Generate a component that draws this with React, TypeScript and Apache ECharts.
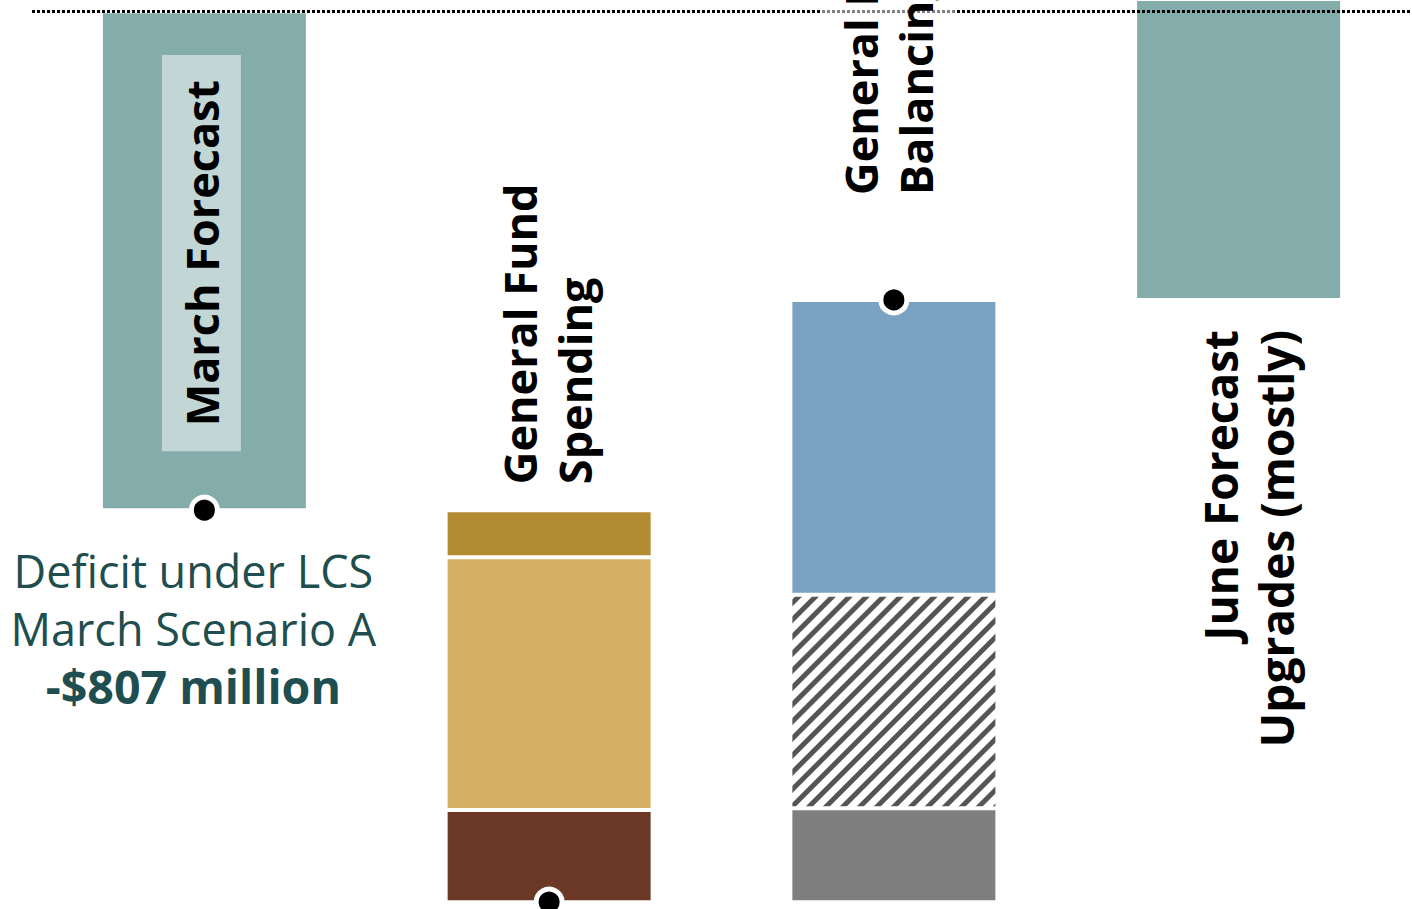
import React, { useEffect, useRef } from "react";
import * as echarts from "echarts";

// ---------- data ----------
const categories = [
  "March Forecast",
  "General Fund Spending",
  "General Fund Balancing",
  "June Forecast Upgrades (mostly)",
];
const categoryLabels = [
  "March Forecast",
  "General Fund\nSpending",
  "General Fund\nBalancing",
  "June Forecast\nUpgrades (mostly)",
];
const marchDeficit = -807; // $ millions
const spendingNames = ["Spending 1", "Spending 2", "Spending 3"];
const spendingValues = [76, 409, 149]; // adds to deficit, top to bottom
const balancingNames = ["Balancing 1", "Balancing 2", "Balancing 3"];
const balancingValues = [477, 345, 152]; // reduces deficit, top to bottom
const juneUpgrade = 700;
const annotationLines = ["Deficit under LCS", "March Scenario A"];
const zeroLine = 0;

// ---------- styles ----------
const teal = "#84acab";
const spendingColors = ["#b38b33", "#d3b064", "#6b3826"];
const balancingColors = ["#79a2c3", "#ffffff", "#7f7f7f"];
const hatchIndex = 1;
const annotationColor = "#1e4e4f";
const FONT = "Open Sans";

export default function App() {
  const ref = useRef<HTMLDivElement>(null);

  useEffect(() => {
    if (!ref.current) return;
    document.body.style.margin = "0";
    const chart = echarts.init(ref.current, undefined, { renderer: "svg" });

    const sum = (a: number[]) => a.reduce((s, v) => s + v, 0);
    const afterSpending = marchDeficit - sum(spendingValues);
    const afterBalancing = afterSpending + sum(balancingValues);
    const afterJune = afterBalancing + juneUpgrade;
    const n = categories.length;
    const only = (i: number, v: number) =>
      Array.from({ length: n }, (_, k) => (k === i ? v : "-"));

    const border = { borderColor: "#ffffff", borderWidth: 2 };
    const bar = (stack: string, name: string, data: any[], itemStyle: any) => ({
      type: "bar",
      name,
      stack,
      stackStrategy: "all",
      barWidth: 207,
      barGap: "-100%",
      z: 2,
      silent: true,
      data,
      itemStyle,
    });
    const invisible = { color: "transparent", borderWidth: 0 };

    const series: any[] = [
      bar("c0", categories[0], only(0, marchDeficit), { ...border, color: teal }),
      bar("c1", "base1", only(1, marchDeficit), invisible),
      ...spendingValues.map((v, i) =>
        bar("c1", spendingNames[i], only(1, -v), { ...border, color: spendingColors[i] })
      ),
      bar("c2", "base2", only(2, afterBalancing), invisible),
      ...balancingValues.map((v, i) =>
        bar("c2", balancingNames[i], only(2, -v), {
          ...border,
          color: balancingColors[i],
          ...(i === hatchIndex
            ? {
                decal: {
                  symbol: "rect",
                  symbolSize: 1,
                  color: "#555555",
                  backgroundColor: "#ffffff",
                  dashArrayX: [1, 0],
                  dashArrayY: [4.3, 7],
                  rotation: -Math.PI / 4,
                },
              }
            : {}),
        })
      ),
      bar("c3", "base3", only(3, afterBalancing), invisible),
      bar("c3", categories[3], only(3, juneUpgrade), { ...border, color: teal }),
      {
        type: "scatter",
        name: "totals",
        z: 15,
        silent: true,
        symbolSize: 26,
        itemStyle: { color: "#000000", borderColor: "#ffffff", borderWidth: 5, opacity: 1 },
        data: [
          [0, marchDeficit],
          [1, afterSpending],
          [2, afterBalancing],
          [3, afterJune],
        ],
        markLine: {
          silent: true,
          symbol: "none",
          label: { show: false },
          lineStyle: { color: "#000000", width: 3, type: [3, 2], opacity: 1 },
          emphasis: { disabled: true },
          data: [{ yAxis: zeroLine }],
        },
      },
    ];

    const catLabel = {
      show: true,
      position: "inside",
      rotate: 90,
      fontFamily: FONT,
      fontWeight: "bold",
      fontSize: 45,
      lineHeight: 55,
      color: "#000000",
      opacity: 1,
      backgroundColor: "rgba(255,255,255,0.5)",
      padding: [12, 30],
    };

    series.push({
      type: "scatter",
      name: "labels",
      z: 20,
      silent: true,
      symbolSize: 0,
      itemStyle: { opacity: 1 },
      data: [
        {
          value: [0, marchDeficit / 2],
          label: {
            ...catLabel,
            formatter: categoryLabels[0],
            align: "center",
            verticalAlign: "middle",
            padding: [12, 25],
            offset: [7.5, -3],
          },
        },
        {
          value: [1, marchDeficit],
          label: {
            ...catLabel,
            formatter: categoryLabels[1],
            align: "left",
            verticalAlign: "middle",
            padding: [12, 26],
            offset: [0, -2],
          },
        },
        {
          value: [2, afterBalancing],
          label: { ...catLabel, formatter: categoryLabels[2], align: "left", verticalAlign: "middle", offset: [75, -6] },
        },
        {
          value: [3, afterBalancing],
          label: {
            ...catLabel,
            formatter: categoryLabels[3],
            align: "right",
            verticalAlign: "middle",
            fontSize: 46,
            lineHeight: 56,
            offset: [0, 9],
          },
        },
        {
          value: [0, marchDeficit],
          label: {
            show: true,
            position: "inside",
            align: "center",
            verticalAlign: "top",
            offset: [-11, 32],
            opacity: 1,
            formatter:
              annotationLines.map((l) => `{a|${l}}`).join("\n") +
              `\n{b|-$${Math.abs(marchDeficit)} million}`,
            rich: {
              a: { fontFamily: FONT, fontSize: 45, lineHeight: 57.5, color: annotationColor },
              b: { fontFamily: FONT, fontSize: 46.5, lineHeight: 57.5, fontWeight: "bold", color: annotationColor },
            },
          },
        },
      ],
    });

    chart.setOption({
      animation: false,
      backgroundColor: "#ffffff",
      grid: { left: 32, right: 1, top: 0, bottom: 0, containLabel: false },
      xAxis: {
        type: "category",
        data: categories,
        axisLine: { show: false },
        axisTick: { show: false },
        axisLabel: { show: false },
      },
      yAxis: {
        type: "value",
        min: -1452,
        max: 18,
        show: false,
        splitLine: { show: false },
      },
      tooltip: { show: false },
      series,
    });

    return () => chart.dispose();
  }, []);

  return <div ref={ref} style={{ width: 1412, height: 909 }} />;
}
